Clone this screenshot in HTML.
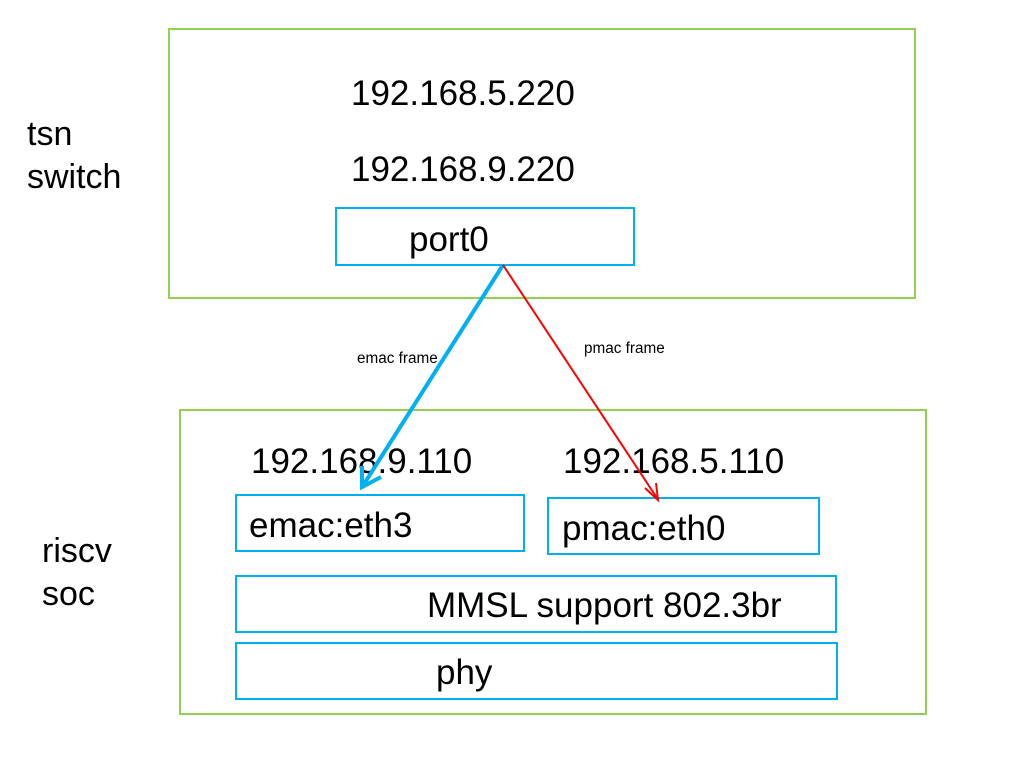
<!DOCTYPE html>
<html><head><meta charset="utf-8"><style>
body{margin:0;width:1026px;height:758px;background:#fff;position:relative;font-family:"Liberation Sans",sans-serif;overflow:hidden}
.b{position:absolute;box-sizing:border-box}
.g{border:2px solid #92d050}
.c{border:2px solid #00b0f0}
.t{position:absolute;white-space:nowrap;color:#000;line-height:1;font-size:35px}
</style></head><body>
<div class="b g" style="left:168px;top:28px;width:748px;height:271px"></div>
<div class="b g" style="left:179px;top:409px;width:748px;height:306px"></div>
<div class="b c" style="left:335px;top:207px;width:300px;height:59px"></div>
<div class="b c" style="left:235px;top:494px;width:290px;height:58px"></div>
<div class="b c" style="left:547px;top:497px;width:273px;height:58px"></div>
<div class="b c" style="left:235px;top:575px;width:602px;height:58px"></div>
<div class="b c" style="left:235px;top:642px;width:603px;height:58px"></div>
<div class="t" style="left:351px;top:76px">192.168.5.220</div>
<div class="t" style="left:351px;top:152px">192.168.9.220</div>
<div class="t" style="left:27px;top:117px;font-size:34px">tsn</div>
<div class="t" style="left:27px;top:160px;font-size:34px">switch</div>
<div class="t" style="left:409px;top:222px">port0</div>
<div class="t" style="left:251px;top:444px">192.168.9.110</div>
<div class="t" style="left:563px;top:444px">192.168.5.110</div>
<div class="t" style="left:42px;top:534px;font-size:34px">riscv</div>
<div class="t" style="left:42px;top:577px;font-size:34px">soc</div>
<div class="t" style="left:249px;top:508px">emac:eth3</div>
<div class="t" style="left:562px;top:511px">pmac:eth0</div>
<div class="t" style="left:427px;top:588px">MMSL support 802.3br</div>
<div class="t" style="left:436px;top:655px">phy</div>
<div class="t" style="left:357px;top:351px;font-size:15.3px">emac frame</div>
<div class="t" style="left:584px;top:341px;font-size:15.3px">pmac frame</div>
<svg width="1026" height="758" style="position:absolute;left:0;top:0">
<line x1="503" y1="265" x2="364" y2="484" stroke="#00b0f0" stroke-width="4"/>
<polyline points="362,466 362,487 381,477" fill="none" stroke="#00b0f0" stroke-width="4"/>
<line x1="503" y1="265" x2="657" y2="498" stroke="#ff0000" stroke-width="2"/>
<polyline points="645,488 658,500 656,483" fill="none" stroke="#ff0000" stroke-width="2"/>
</svg>
</body></html>
